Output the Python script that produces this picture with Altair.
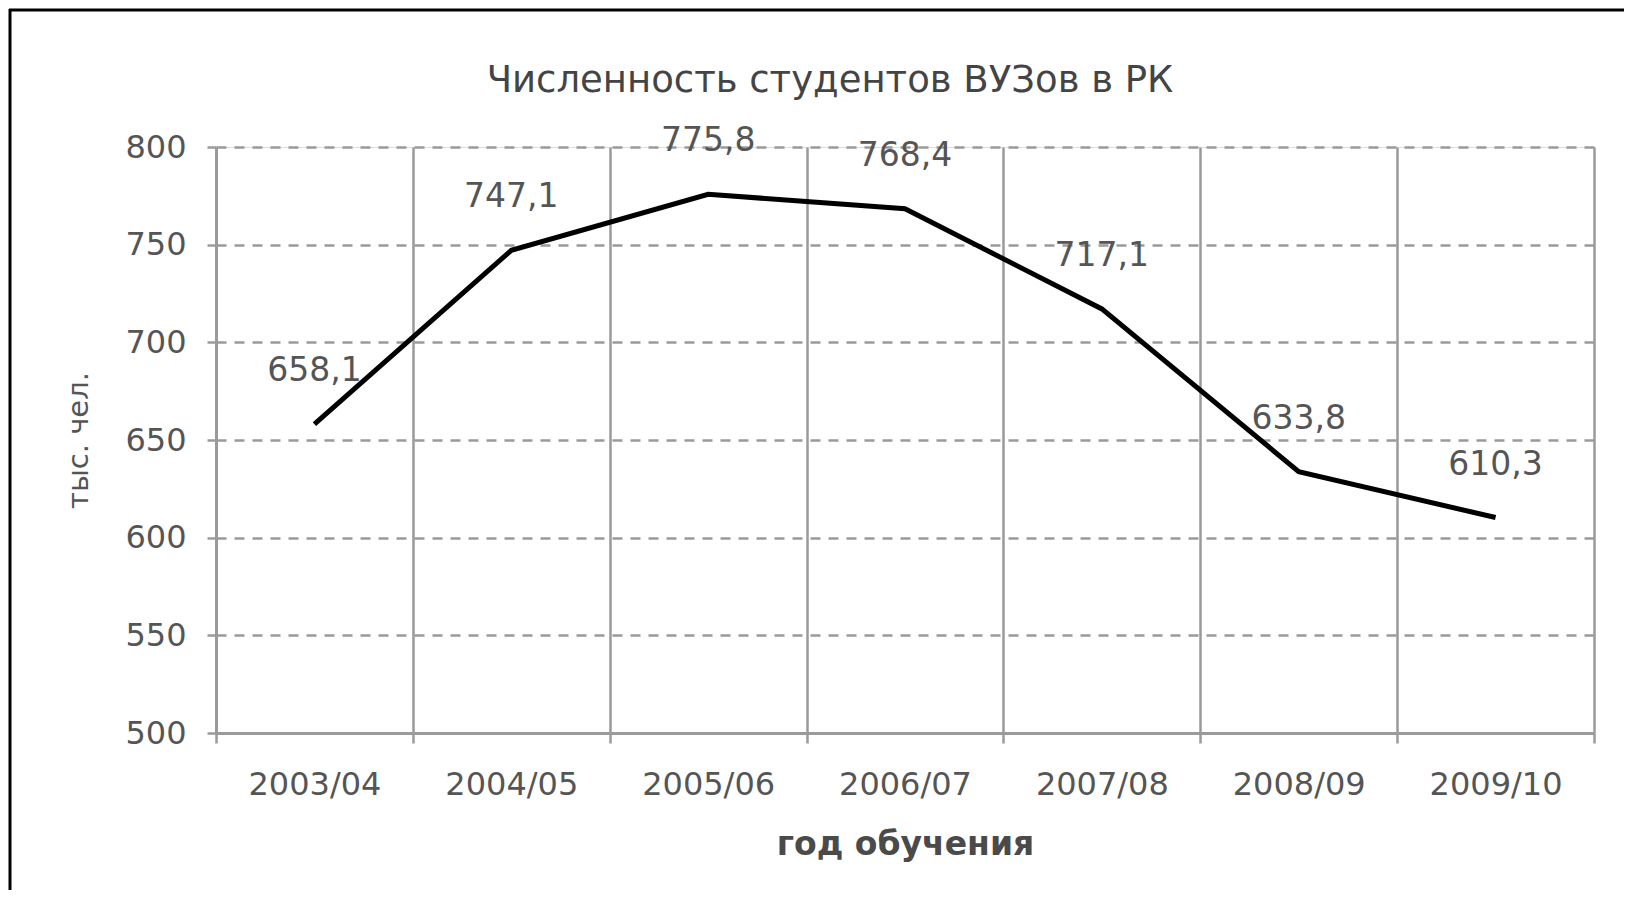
import altair as alt
import pandas as pd

years = ["2003/04", "2004/05", "2005/06", "2006/07", "2007/08", "2008/09", "2009/10"]
students = [658.1, 747.1, 775.8, 768.4, 717.1, 633.8, 610.3]
labels = [f"{v:.1f}".replace(".", ",") for v in students]

title_text = "Численность студентов ВУЗов в РК"
y_title = "тыс. чел."
x_title = "год обучения"

df = pd.DataFrame({"year": years, "value": students, "label": labels})

FONT = "DejaVu Sans"
GRAY = "#555555"
GRID = "#9a9a9a"

x_enc = alt.X(
    "year:N",
    sort=years,
    title=x_title,
    scale=alt.Scale(type="band", paddingInner=0, paddingOuter=0),
    axis=alt.Axis(
        labelAngle=0,
        tickBand="extent",
        grid=True,
        gridColor=GRID,
        gridWidth=2.5,
        gridDash=[1, 0],
        domainColor=GRID,
        domainWidth=3,
        tickColor=GRID,
        tickWidth=2.5,
        tickSize=10,
        labelPadding=26,
        labelFont=FONT,
        labelFontSize=32,
        labelColor=GRAY,
        titleFont=FONT,
        titleFontSize=33,
        titleColor="#4a4a4a",
        titleFontWeight="bold",
        titlePadding=28,
    ),
)

y_enc = alt.Y(
    "value:Q",
    title=y_title,
    scale=alt.Scale(domain=[500, 800], nice=False, zero=False),
    axis=alt.Axis(
        values=[500, 550, 600, 650, 700, 750, 800],
        grid=True,
        gridColor=GRID,
        gridWidth=2.5,
        gridDash=[10, 8],
        domainColor=GRID,
        domainWidth=3,
        tickColor=GRID,
        tickWidth=2.5,
        tickSize=9,
        labelPadding=21,
        labelFont=FONT,
        labelFontSize=32,
        labelColor=GRAY,
        titleFont=FONT,
        titleFontSize=29,
        titleColor=GRAY,
        titleFontWeight="normal",
        titlePadding=31,
    ),
)

base = alt.Chart(df)

line = base.mark_line(color="#000000", strokeWidth=5).encode(x=x_enc, y=y_enc)

text = base.mark_text(
    font=FONT, fontSize=33, color=GRAY, dy=-53, baseline="middle", align="center"
).encode(x=alt.X("year:N", sort=years), y="value:Q", text="label:N")

frame_df = pd.DataFrame({"a": [0]})
left_border = alt.Chart(frame_df).mark_rule(color="#000000", strokeWidth=3).encode(
    x=alt.value(-206), y=alt.value(-138), y2=alt.value(743)
)
top_border = alt.Chart(frame_df).mark_rule(color="#000000", strokeWidth=3).encode(
    x=alt.value(-207), x2=alt.value(1408), y=alt.value(-137)
)

chart = (
    alt.layer(line, text, left_border, top_border)
    .properties(
        width=1378,
        height=586,
        title=alt.TitleParams(
            title_text,
            font=FONT,
            fontSize=37,
            fontWeight="normal",
            color="#444444",
            anchor="middle",
            dx=-75,
            dy=92,
            offset=0,
        ),
        autosize=alt.AutoSizeParams(type="none"),
        padding={"left": 208, "top": 139, "right": 30, "bottom": 157},
    )
    .configure_view(stroke=None)
    .configure(background="#ffffff")
)

chart.save("out.html", embed_options={"renderer": "svg", "actions": False})
